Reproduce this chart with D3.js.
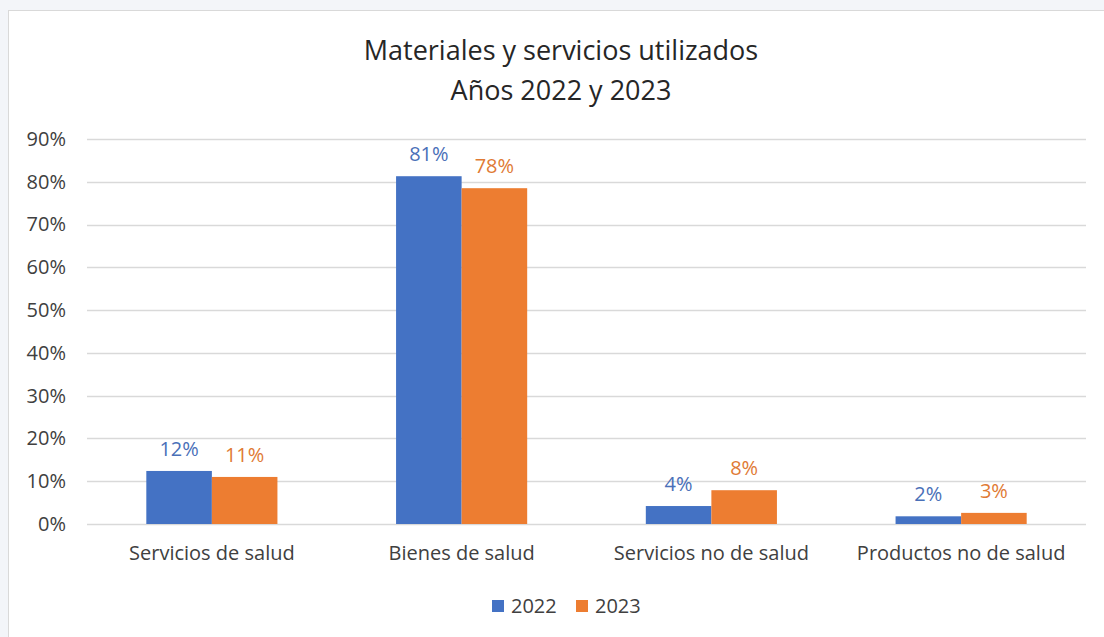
<html lang="es">
<head>
<meta charset="utf-8">
<title>Materiales y servicios utilizados</title>
<script src="https://d3js.org/d3.v7.min.js"></script>
<style>
  body { margin: 0; background: #f3f5f9; }
  svg { display: block; font-family: "Open Sans", sans-serif; }
</style>
</head>
<body>
<script>
var categories = ["Servicios de salud", "Bienes de salud", "Servicios no de salud", "Productos no de salud"];
var years = ["2022", "2023"];
var values2022 = [0.124, 0.813, 0.042, 0.018];
var values2023 = [0.110, 0.785, 0.079, 0.026];
var labels2022 = ["12%", "81%", "4%", "2%"];
var labels2023 = ["11%", "78%", "8%", "3%"];
var yTicks = [0, 0.1, 0.2, 0.3, 0.4, 0.5, 0.6, 0.7, 0.8, 0.9];

var width = 1104, height = 637;
var colors = ["#4472c4", "#ed7d31"];
var labelColors = ["#4a70b8", "#e07a34"];
var fontFam = "'Open Sans', sans-serif";

var svg = d3.select("body").append("svg")
    .attr("width", width)
    .attr("height", height);

// chart box
svg.append("rect")
    .attr("x", 8.5).attr("y", 10.5)
    .attr("width", width).attr("height", height)
    .attr("fill", "#fff")
    .attr("stroke", "#d9d9d9");

var plotLeft = 87, plotRight = 1086, plotTop = 139, plotBottom = 524;

var x = d3.scaleBand()
    .domain(categories)
    .range([plotLeft, plotRight])
    .paddingInner(0.475)
    .paddingOuter(0.2375);

var x1 = d3.scaleBand()
    .domain(years)
    .range([0, x.bandwidth()]);

var y = d3.scaleLinear()
    .domain([0, 0.9])
    .range([plotBottom, plotTop]);

// title
var title = svg.append("text")
    .attr("text-anchor", "middle")
    .attr("fill", "#262626")
    .attr("font-size", "27px");
title.append("tspan").attr("x", 561).attr("y", 60).text("Materiales y servicios utilizados");
title.append("tspan").attr("x", 561).attr("y", 100).text("Años 2022 y 2023");

// grid
svg.append("g")
    .selectAll("line")
    .data(yTicks)
    .enter().append("line")
    .attr("x1", plotLeft).attr("x2", plotRight)
    .attr("y1", function(d) { return Math.round(y(d)) + 0.5; })
    .attr("y2", function(d) { return Math.round(y(d)) + 0.5; })
    .attr("stroke", "#d9d9d9")
    .attr("stroke-width", 1.5);

// y axis labels
var yAxis = svg.append("g")
    .attr("transform", "translate(69,0)")
    .call(d3.axisLeft(y).tickValues(yTicks).tickSize(0).tickFormat(d3.format(".0%")));
yAxis.select(".domain").remove();
yAxis.selectAll("text")
    .attr("font-family", fontFam)
    .attr("font-size", "20px")
    .attr("fill", "#404040");

// x axis labels
var xAxis = svg.append("g")
    .attr("transform", "translate(0," + plotBottom + ")")
    .call(d3.axisBottom(x).tickSize(0).tickPadding(22));
xAxis.select(".domain").remove();
xAxis.selectAll("text")
    .attr("font-family", fontFam)
    .attr("font-size", "20px")
    .attr("fill", "#404040");

var series = [values2022, values2023];
var seriesLabels = [labels2022, labels2023];

years.forEach(function(yr, i) {
    var g = svg.append("g");
    g.selectAll("rect")
        .data(categories)
        .enter().append("rect")
        .attr("x", function(d) { return x(d) + x1(yr); })
        .attr("width", x1.bandwidth())
        .attr("y", function(d, j) { return y(series[i][j]); })
        .attr("height", function(d, j) { return plotBottom - y(series[i][j]); })
        .attr("fill", colors[i]);
    g.selectAll("text")
        .data(categories)
        .enter().append("text")
        .attr("x", function(d) { return x(d) + x1(yr) + x1.bandwidth() / 2; })
        .attr("y", function(d, j) { return y(series[i][j]) - 15; })
        .attr("text-anchor", "middle")
        .attr("font-size", "20px")
        .attr("fill", labelColors[i])
        .text(function(d, j) { return seriesLabels[i][j]; });
});

// legend
var legend = svg.append("g").attr("transform", "translate(492,606)");
var lx = [0, 84];
years.forEach(function(yr, i) {
    legend.append("rect")
        .attr("x", lx[i]).attr("y", -6)
        .attr("width", 12).attr("height", 12)
        .attr("fill", colors[i]);
    legend.append("text")
        .attr("x", lx[i] + 19).attr("y", 7)
        .attr("font-size", "20px")
        .attr("fill", "#404040")
        .text(yr);
});
</script>
</body>
</html>
